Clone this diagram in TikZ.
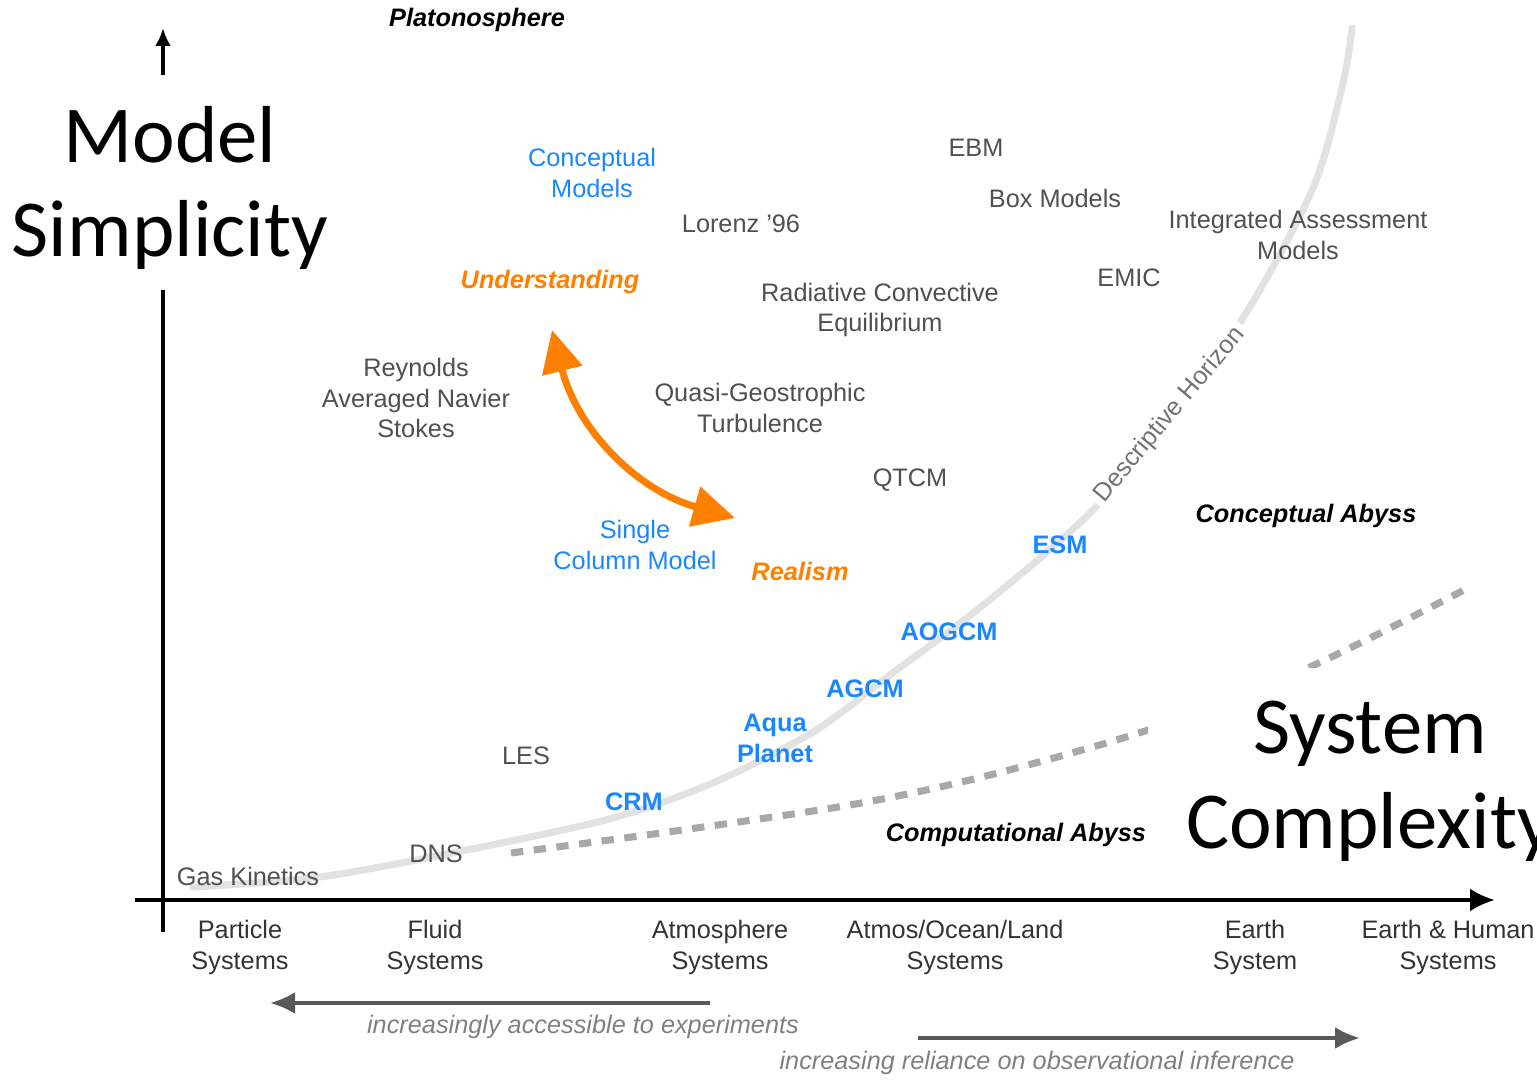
\documentclass[tikz,border=0pt]{standalone}
\usepackage{fontspec}
\setmainfont{Liberation Sans}
\newfontfamily\calibri{Carlito}
\usetikzlibrary{arrows.meta}

\definecolor{skyblue}{RGB}{25,135,255}
\definecolor{tangerine}{RGB}{255,128,0}
\definecolor{labelgray}{RGB}{80,80,80}
\definecolor{horizongray}{RGB}{226,226,226}
\definecolor{abyssgray}{RGB}{168,168,168}

\begin{document}
\begin{tikzpicture}[>=Latex,
  every node/.style={font=\fontsize{7.2}{8.8}\selectfont, align=center},
  model/.style={text=labelgray},
  simplemodel/.style={text=skyblue},
  gcm/.style={text=skyblue, font=\fontsize{7.2}{8.8}\selectfont\bfseries},
  goal/.style={text=tangerine, font=\fontsize{7.2}{8.8}\selectfont\bfseries\itshape},
  realm/.style={text=black, font=\fontsize{7.2}{8.8}\selectfont\bfseries\itshape},
  system/.style={text=black!80},
  trend/.style={text=black!50, font=\fontsize{7.2}{8.8}\selectfont\itshape},
  bigaxis/.style={font=\calibri\fontsize{23}{27}\selectfont},
  horizon/.style={draw=horizongray, line width=2pt, line cap=round},
  abyss/.style={draw=abyssgray, line width=2pt, dash pattern=on 3.5pt off 3pt},
  axis/.style={line width=1.2pt},
  trendarrow/.style={draw=black!65, line width=1.1pt, -{Latex[length=2.5mm,width=2.2mm]}},
  swing/.style={draw=tangerine, line width=2pt,
    {Triangle[length=4.2mm,width=4mm]}-{Triangle[length=4.2mm,width=4mm]}}]
  \useasboundingbox (0,0) rectangle (15.37,10.81);

  % descriptive horizon and the edge of the computational abyss
  \draw[horizon] plot[smooth] coordinates {(1.93,1.94) (3.20,2.04) (4.67,2.31) (6.13,2.63)
    (7.15,2.99) (8.13,3.49) (8.94,4.09) (9.82,4.75) (10.90,5.68) (11.65,6.61)
    (12.43,7.63) (13.13,8.93) (13.43,9.98) (13.52,10.53)};
  \draw[abyss] plot[smooth] coordinates {(5.11,2.28) (6.61,2.48) (8.50,2.76) (9.82,3.04)
    (11.48,3.51) (13.10,4.14) (14.68,4.93)};
  \node[rotate=50, fill=white, inner sep=1.5pt, text=black!55] (horizon) at (11.70,6.66) {Descriptive Horizon};

  % axis titles
  \node[bigaxis] (simplicity) at (1.70,8.93) {Model\\Simplicity};
  \node[bigaxis, fill=white, minimum width=4.44cm, minimum height=2.26cm] (complexity) at (13.70,3.00) {System\\Complexity};

  % axes
  \draw[axis] (1.63,7.91) -- (1.63,1.49);
  \draw[axis, -{Latex[length=1.8mm,width=1.6mm]}] (1.63,10.06) -- (1.63,10.53);
  \draw[axis, -{Latex[length=2.5mm,width=2.3mm]}] (1.35,1.81) -- (14.95,1.81);

  % models
  \node[realm] (plato) at (4.77,10.61) {Platonosphere};
  \node[simplemodel] (concept) at (5.92,9.08) {Conceptual\\Models};
  \node[model] (ebm) at (9.76,9.33) {EBM};
  \node[model] (box) at (10.55,8.83) {Box Models};
  \node[model] (lorenz) at (7.41,8.57) {Lorenz '96};
  \node[model] (iam) at (12.98,8.46) {Integrated Assessment\\Models};
  \node[goal] (underst) at (5.50,7.99) {Understanding};
  \node[model] (emic) at (11.29,8.03) {EMIC};
  \node[model] (rce) at (8.80,7.71) {Radiative Convective\\Equilibrium};
  \node[model] (rans) at (4.16,6.83) {Reynolds\\Averaged Navier\\Stokes};
  \node[model] (qg) at (7.60,6.73) {Quasi-Geostrophic\\Turbulence};
  \node[model] (qtcm) at (9.10,6.01) {QTCM};
  \node[realm] (cabyss) at (13.06,5.65) {Conceptual Abyss};
  \node[simplemodel] (scm) at (6.35,5.36) {Single\\Column Model};
  \node[goal] (realism) at (8.00,5.10) {Realism};
  \node[gcm] (esm) at (10.60,5.36) {ESM};
  \node[gcm] (aogcm) at (9.49,4.49) {AOGCM};
  \node[gcm] (agcm) at (8.65,3.92) {AGCM};
  \node[gcm] (aqua) at (7.75,3.43) {Aqua\\Planet};
  \node[model] (les) at (5.26,3.25) {LES};
  \node[gcm] (crm) at (6.34,2.79) {CRM};
  \node[realm] (compabyss) at (10.16,2.46) {Computational Abyss};
  \node[model] (dns) at (4.36,2.27) {DNS};
  \node[model] (gas) at (2.48,2.05) {Gas Kinetics};

  % understanding <-> realism
  \coordinate (undtip) at (5.52,7.51);
  \coordinate (realtip) at (7.35,5.63);
  \draw[swing] (undtip) to[bend right=30] (realtip);

  % systems along the horizontal axis
  \node[system] (particle) at (2.40,1.34) {Particle\\Systems};
  \node[system] (fluid) at (4.35,1.34) {Fluid\\Systems};
  \node[system] (atmos) at (7.20,1.34) {Atmosphere\\Systems};
  \node[system] (aol) at (9.55,1.34) {Atmos/Ocean/Land\\Systems};
  \node[system] (earth) at (12.55,1.34) {Earth\\System};
  \node[system] (human) at (14.48,1.34) {Earth \& Human\\Systems};

  % trends
  \coordinate (expstart) at (7.10,0.78);
  \coordinate (expend) at (2.70,0.78);
  \draw[trendarrow] (expstart) -- (expend);
  \node[trend] (exper) at (5.83,0.54) {increasingly accessible to experiments};
  \coordinate (obsstart) at (9.18,0.43);
  \coordinate (obsend) at (13.60,0.43);
  \draw[trendarrow] (obsstart) -- (obsend);
  \node[trend] (obs) at (10.37,0.18) {increasing reliance on observational inference};
\end{tikzpicture}
\end{document}
